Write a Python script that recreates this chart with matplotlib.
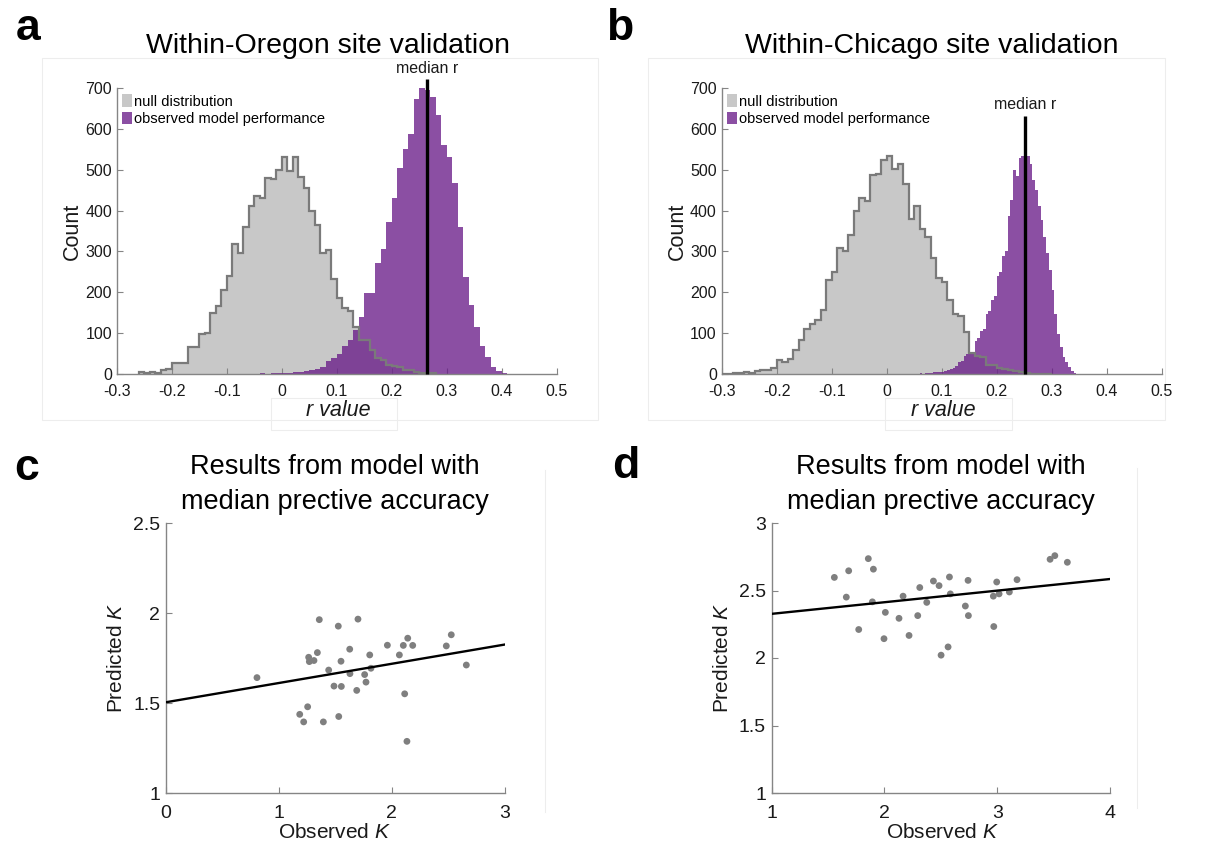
import numpy as np
import matplotlib
matplotlib.use('Agg')
import matplotlib.pyplot as plt
from matplotlib.patches import Patch, Rectangle
from matplotlib.lines import Line2D

plt.rcParams['font.family'] = ['Liberation Sans', 'DejaVu Sans']
plt.rcParams['mathtext.fontset'] = 'custom'
plt.rcParams['mathtext.it'] = 'Liberation Sans:italic'
plt.rcParams['mathtext.rm'] = 'Liberation Sans'

# ---------------- data ----------------
null_width = 0.01
null_a_start = -0.26
null_a_counts = [4, 2, 4, 3, 10, 13, 26, 26, 28, 66, 66, 98, 101, 149, 167, 205, 240, 318,
                 297, 359, 410, 435, 431, 480, 478, 499, 532, 498, 532, 483, 455, 400, 365,
                 295, 303, 232, 187, 162, 153, 115, 84, 82, 59, 39, 34, 23, 19, 16, 11, 10,
                 6, 2, 0, 2]
obs_a_start = -0.07
obs_a_width = 0.01
obs_a_counts = [1, 1, 1, 2, 1, 2, 2, 3, 3, 4, 5, 7, 9, 12, 17, 33, 38, 48, 68, 82, 107, 139,
                199, 199, 271, 306, 373, 431, 504, 551, 588, 673, 700, 695, 679, 634, 560,
                530, 468, 361, 238, 168, 115, 68, 41, 18, 8, 2]
median_a = 0.265

null_b_start = -0.30
null_b_counts = [1, 1, 2, 3, 4, 2, 8, 11, 10, 14, 34, 29, 37, 59, 84, 111, 123, 131, 156, 231,
                 249, 309, 300, 339, 398, 431, 424, 487, 490, 523, 533, 502, 515, 466, 380,
                 412, 355, 336, 283, 234, 224, 181, 148, 142, 103, 52, 45, 41, 21, 21, 15, 12,
                 10, 8, 4, 2, 1, 1, 0, 1]
obs_b_start = 0.03
obs_b_width = 0.005
obs_b_counts = [1, 0, 1, 1, 1, 1, 2, 1, 2, 2, 3, 5, 6, 6, 6, 8, 10, 12, 15, 20, 30, 33, 45,
                48, 52, 55, 80, 88, 105, 110, 148, 155, 180, 190, 240, 250, 290, 300, 386,
                427, 500, 484, 529, 533, 546, 533, 513, 476, 451, 410, 377, 336, 295, 254,
                205, 148, 98, 66, 41, 29, 16, 8, 2, 1]
median_b = 0.251

hist_xticks = [-0.3, -0.2, -0.1, 0, 0.1, 0.2, 0.3, 0.4, 0.5]
hist_xticklabels = ['-0.3', '-0.2', '-0.1', '0', '0.1', '0.2', '0.3', '0.4', '0.5']
hist_yticks = [0, 100, 200, 300, 400, 500, 600, 700]

c_observed = [0.807, 1.358, 1.526, 1.700, 1.264, 1.270, 1.311, 1.341, 1.441, 1.550, 1.627,
              1.629, 1.488, 1.553, 1.689, 1.759, 1.771, 1.804, 1.815, 1.960, 2.066, 2.101,
              2.140, 2.184, 2.113, 2.133, 2.481, 2.525, 2.658, 1.255, 1.185, 1.220, 1.394,
              1.530]
c_predicted = [1.641, 1.963, 1.927, 1.966, 1.754, 1.730, 1.736, 1.780, 1.683, 1.732, 1.799,
               1.663, 1.594, 1.592, 1.570, 1.658, 1.616, 1.767, 1.693, 1.821, 1.767, 1.820,
               1.860, 1.820, 1.551, 1.287, 1.817, 1.879, 1.711, 1.479, 1.437, 1.395, 1.395,
               1.425]
c_fit_slope, c_fit_intercept = 0.107, 1.504

d_observed = [1.557, 1.684, 1.858, 1.903, 1.663, 1.894, 1.773, 2.009, 1.997, 2.166, 2.130,
              2.219, 2.314, 2.296, 2.376, 2.435, 2.485, 2.577, 2.585, 2.503, 2.565, 2.718,
              2.745, 2.742, 2.966, 3.017, 2.996, 2.970, 3.108, 3.176, 3.469, 3.511, 3.622]
d_predicted = [2.597, 2.646, 2.736, 2.658, 2.451, 2.416, 2.211, 2.338, 2.143, 2.458, 2.294,
               2.167, 2.522, 2.314, 2.412, 2.570, 2.536, 2.600, 2.475, 2.021, 2.082, 2.385,
               2.314, 2.575, 2.458, 2.475, 2.563, 2.233, 2.489, 2.580, 2.731, 2.758, 2.709]
d_fit_slope, d_fit_intercept = 0.086, 2.241

# ---------------- styles ----------------
W, H = 1217, 852
GRAY_FILL = '#c8c8c8'
GRAY_EDGE = '#7a7a7a'
PURPLE = '#6a1d89'
PURPLE_ALPHA = 0.78
PURPLE_LEGEND = '#8b4fa3'
AX_COLOR = '#858585'
TXT = '#1a1a1a'
FAINT = '#ededed'

fig = plt.figure(figsize=(W / 100, H / 100), dpi=100)


def px_rect(l, t, r, b):
    return [l / W, 1 - b / H, (r - l) / W, (b - t) / H]


def fx(x):
    return x / W


def fy(y):
    return 1 - y / H


def style_axes(ax, labelsize, xpad, ypad):
    for s in ['top', 'right']:
        ax.spines[s].set_visible(False)
    for s in ['left', 'bottom']:
        ax.spines[s].set_color(AX_COLOR)
        ax.spines[s].set_linewidth(1.0)
    ax.tick_params(direction='in', length=4, width=0.8, color=AX_COLOR,
                   labelsize=labelsize, labelcolor=TXT)
    ax.tick_params(axis='x', pad=xpad)
    ax.tick_params(axis='y', pad=ypad)


# faint export frames
for (l, t, r, b) in [(42, 58, 598, 420), (648, 58, 1165, 420), (271, 398, 397, 430),
                     (885, 398, 1012, 430)]:
    fig.add_artist(Rectangle((fx(l), fy(b)), (r - l) / W, (b - t) / H, transform=fig.transFigure,
                             fill=False, edgecolor=FAINT, linewidth=0.8, zorder=0))
for (x, t, b) in [(545, 470, 812), (1137, 468, 808)]:
    fig.add_artist(Line2D([fx(x), fx(x)], [fy(t), fy(b)], transform=fig.transFigure,
                          color=FAINT, linewidth=0.8, zorder=0))


def hist_panel(rect, null_start, null_counts, obs_start, obs_width, obs_counts, median,
               line_top, text_y, legend_anchor):
    ax = fig.add_axes(rect)
    ne = np.round(null_start + null_width * np.arange(len(null_counts) + 1), 4)
    oe = np.round(obs_start + obs_width * np.arange(len(obs_counts) + 1), 4)
    ax.stairs(null_counts, ne, fill=True, color=GRAY_FILL, zorder=1)
    ax.stairs(obs_counts, oe, fill=True, color=PURPLE, alpha=PURPLE_ALPHA, zorder=2,
              linewidth=0)
    ax.stairs(null_counts, ne, fill=False, color=GRAY_EDGE, linewidth=1.6, zorder=3,
              baseline=0)
    ax.plot([median, median], [0, line_top], color='black', linewidth=2.4, zorder=5,
            clip_on=False, solid_capstyle='butt')
    ax.text(median, text_y, 'median r', ha='center', va='center', fontsize=11.5,
            color=TXT, clip_on=False)
    ax.set_xlim(-0.3, 0.5)
    ax.set_ylim(0, 700)
    ax.set_xticks(hist_xticks)
    ax.set_xticklabels(hist_xticklabels)
    ax.set_yticks(hist_yticks)
    style_axes(ax, 11.5, 7, 3.5)
    handles = [Patch(facecolor=GRAY_FILL, edgecolor='none'),
               Patch(facecolor=PURPLE_LEGEND, edgecolor='none')]
    ax.legend(handles, ['null distribution', 'observed model performance'],
              loc='upper left', bbox_to_anchor=legend_anchor, frameon=False, fontsize=10.5,
              handlelength=0.7, handleheight=0.95, handletextpad=0.15, labelspacing=0.2,
              borderaxespad=0, borderpad=0)
    return ax


ax_a = hist_panel(px_rect(116.8, 88, 556.5, 374), null_a_start, null_a_counts, obs_a_start,
                  obs_a_width, obs_a_counts, median_a, 722, 748, (0.011, 0.978))
ax_b = hist_panel(px_rect(721.7, 88, 1161.7, 374), null_b_start, null_b_counts, obs_b_start,
                  obs_b_width, obs_b_counts, median_b, 631, 660, (0.011, 0.978))


def scatter_panel(rect, xs, ys, slope, intercept, xlim, ylim, xticks, yticks, yticklabels):
    ax = fig.add_axes(rect)
    ax.scatter(xs, ys, s=24, color='#7f7f7f', edgecolors='none', zorder=3)
    xl = np.array(xlim, dtype=float)
    ax.plot(xl, slope * xl + intercept, color='black', linewidth=1.7, zorder=4)
    ax.set_xlim(*xlim)
    ax.set_ylim(*ylim)
    ax.set_xticks(xticks)
    ax.set_xticklabels([str(t) for t in xticks])
    ax.set_yticks(yticks)
    ax.set_yticklabels(yticklabels)
    style_axes(ax, 14, 8.5, 4)
    return ax


ax_c = scatter_panel(px_rect(165.7, 523, 505, 793), c_observed, c_predicted, c_fit_slope,
                     c_fit_intercept, (0, 3), (1, 2.5), [0, 1, 2, 3], [1, 1.5, 2, 2.5],
                     ['1', '1.5', '2', '2.5'])
ax_d = scatter_panel(px_rect(771.5, 523, 1110, 793), d_observed, d_predicted, d_fit_slope,
                     d_fit_intercept, (1, 4), (1, 3), [1, 2, 3, 4], [1, 1.5, 2, 2.5, 3],
                     ['1', '1.5', '2', '2.5', '3'])

# ---------------- text ----------------
for (x, y, s) in [(28, 28, 'a'), (620, 28, 'b'), (27, 468, 'c'), (626, 466, 'd')]:
    fig.text(fx(x), fy(y), s, fontsize=32, fontweight='bold', ha='center', va='center',
             color='black')

fig.text(fx(328), fy(53), 'Within-Oregon site validation', fontsize=20.5, ha='center',
         va='baseline', color='black')
fig.text(fx(932), fy(53), 'Within-Chicago site validation', fontsize=20.5, ha='center',
         va='baseline', color='black')
for xc in [335, 941]:
    fig.text(fx(xc), fy(474), 'Results from model with', fontsize=19.5, ha='center',
             va='baseline', color='black')
    fig.text(fx(xc), fy(509), 'median prective accuracy', fontsize=19.5, ha='center',
             va='baseline', color='black')

for (x, y) in [(72, 231), (677, 231)]:
    fig.text(fx(x), fy(y), 'Count', fontsize=15.5, rotation=90, ha='center', va='center',
             color=TXT)
for (x, y) in [(338, 411), (943, 411)]:
    fig.text(fx(x), fy(y), 'r value', fontsize=15.5, style='italic', ha='center',
             va='center', color=TXT)
for (x, y) in [(117, 658), (723, 658)]:
    fig.text(fx(x), fy(y), r'Predicted $\mathit{K}$', fontsize=15, rotation=90,
             ha='center', va='center', color=TXT)
for (x, y) in [(334, 833), (942, 833)]:
    fig.text(fx(x), fy(y), r'Observed $\mathit{K}$', fontsize=15, ha='center',
             va='center', color=TXT)

fig.savefig('out.png', dpi=100, facecolor='white')
